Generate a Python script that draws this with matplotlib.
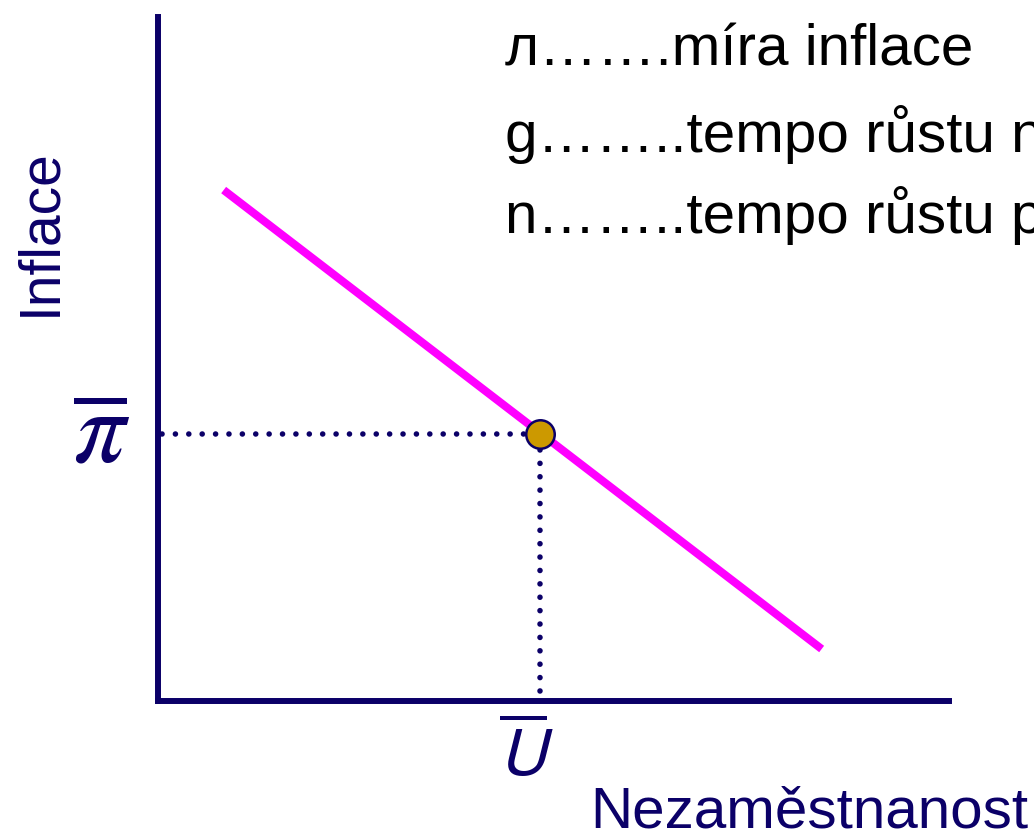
import matplotlib
matplotlib.use("Agg")
import matplotlib.pyplot as plt

# data (abstract units, axes 0..10)
curve_x = [0.83, 8.39]
curve_y = [7.47, 0.76]
eq_x = 4.83
eq_y = 3.90

legend_lines = [
    "л…….míra inflace",
    "g……..tempo růstu nominálních mezd",
    "n……..tempo růstu produktivity práce",
]

navy = "#0b0068"
plt.rcParams["font.family"] = ["Liberation Sans", "DejaVu Sans"]

fig = plt.figure(figsize=(10.34, 8.33), dpi=100)
W, H = 1034, 833
ax = fig.add_axes([158 / W, (H - 701) / H, (949 - 158) / W, (701 - 17) / H])
ax.set_xlim(0, 10)
ax.set_ylim(0, 10)

for s in ["top", "right"]:
    ax.spines[s].set_visible(False)
for s in ["left", "bottom"]:
    ax.spines[s].set_color(navy)
    ax.spines[s].set_linewidth(4.3)
    ax.spines[s].set_capstyle("projecting")
ax.set_xticks([])
ax.set_yticks([])

# dotted guides
dot = dict(color=navy, lw=4.0, linestyle=(0, (0.01, 2.4)), dash_capstyle="round")
ax.plot([0.05, eq_x], [eq_y, eq_y], **dot)
ax.plot([eq_x, eq_x], [0.15, eq_y], **dot)

# Phillips curve
ax.plot(curve_x, curve_y, color="#ff00ff", lw=5.8, solid_capstyle="butt")
ax.plot([eq_x], [eq_y], "o", ms=20.5, mfc="#cc9900", mec=navy, mew=1.8, zorder=5)

# labels on axes
ax.text(-0.72, eq_y - 0.02, r"$\overline{\pi}$", math_fontfamily="stix", fontsize=74,
        color=navy, ha="center", va="center")
ax.text(4.66, -0.82, r"$\overline{U}$", math_fontfamily="stixsans", fontsize=50,
        color=navy, ha="center", va="center")

fig.text(40 / W, 1 - 232 / H, "Inflace", rotation=90, fontsize=41, color=navy,
         ha="center", va="center")
fig.text(590 / W, 1 - 828 / H, "Nezaměstnanost", fontsize=42, color=navy,
         ha="left", va="baseline")

base_y = [66, 152, 233]
for txt, by in zip(legend_lines, base_y):
    fig.text(505 / W, 1 - by / H, txt, fontsize=42, color="black",
             ha="left", va="baseline")

fig.savefig("out.png", dpi=100)
